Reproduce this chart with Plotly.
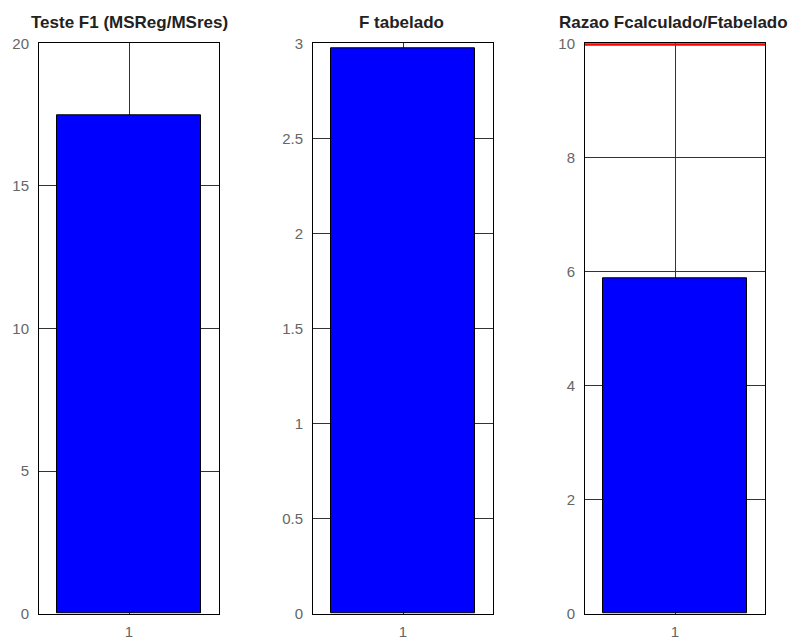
import plotly.graph_objects as go
from plotly.subplots import make_subplots

categories = [1]
f_calc = [17.48]
f_tab = [2.973]
razao = [5.88]
limite = [10, 10]
limite_x = [0.5, 1.5]

titles = ["Teste F1 (MSReg/MSres)", "F tabelado", "Razao Fcalculado/Ftabelado"]
y_ranges = [[0, 20], [0, 3], [0, 10]]
y_ticks = [[0, 5, 10, 15, 20], [0, 0.5, 1, 1.5, 2, 2.5, 3], [0, 2, 4, 6, 8, 10]]
y_ticktext = [["0", "5", "10", "15", "20"], ["0", "0.5", "1", "1.5", "2", "2.5", "3"],
              ["0", "2", "4", "6", "8", "10"]]

W, H = 801, 642
fig = make_subplots(rows=1, cols=3)

for i, vals in enumerate([f_calc, f_tab, razao]):
    fig.add_trace(go.Bar(x=categories, y=vals, width=0.8,
                         marker=dict(color="#0000ff", line=dict(color="black", width=1)),
                         showlegend=False), row=1, col=i + 1)

fig.add_trace(go.Scatter(x=limite_x, y=limite, mode="lines",
                         line=dict(color="#ff0000", width=5), showlegend=False),
              row=1, col=3)

x_doms = [(31, 211), (305, 485), (577, 757)]
top_px, bot_px = 27, 613
y_dom = [(H - bot_px) / H, (H - top_px) / H]
title_x = [121, 393, 665]

for i in range(3):
    xa = "xaxis" if i == 0 else f"xaxis{i+1}"
    ya = "yaxis" if i == 0 else f"yaxis{i+1}"
    fig.layout[xa].update(domain=[x_doms[i][0] / W, x_doms[i][1] / W], range=[0.5, 1.5],
                          tickvals=[1], ticktext=["1"], showline=True, mirror=True,
                          linecolor="black", linewidth=1, showgrid=True,
                          gridcolor="#333333", gridwidth=1, ticks="", zeroline=False,
                          tickfont=dict(color="#666666", size=15, family="Liberation Sans"),
                          ticklabelstandoff=4)
    fig.layout[ya].update(domain=y_dom, range=y_ranges[i], tickvals=y_ticks[i],
                          ticktext=y_ticktext[i], showline=True, mirror=True,
                          linecolor="black", linewidth=1, showgrid=True,
                          gridcolor="#333333", gridwidth=1, ticks="", zeroline=False,
                          tickfont=dict(color="#666666", size=15, family="Liberation Sans"),
                          ticklabelstandoff=6)
    fig.add_annotation(text=f"<b>{titles[i]}</b>", x=title_x[i] / W, y=1 - 6 / H,
                       xref="paper", yref="paper", showarrow=False,
                       xanchor="center", yanchor="middle",
                       font=dict(size=17, color="#222222", family="Liberation Sans"))

fig.update_layout(width=W, height=H, margin=dict(l=0, r=0, t=0, b=0),
                  paper_bgcolor="white", plot_bgcolor="white", bargap=0)

fig.write_html("out.html")
